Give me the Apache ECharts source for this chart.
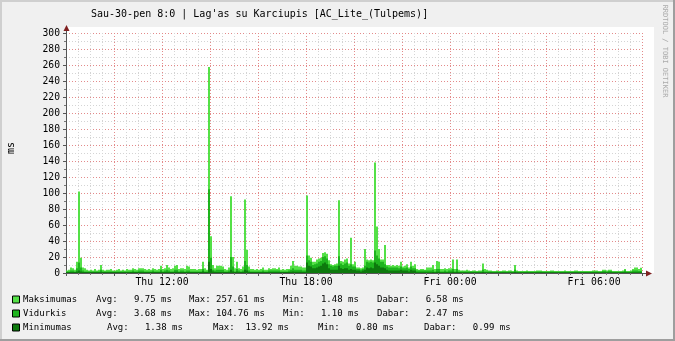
<!DOCTYPE html>
<html><head><meta charset="utf-8">
<script src="https://cdn.jsdelivr.net/npm/echarts@6/dist/echarts.min.js"></script>
<style>html,body{margin:0;padding:0;background:#F0F0F0}#c{width:675px;height:341px}</style>
</head><body><div id="c"></div>
<script>
const titleText = "Sau-30-pen 8:0 | Lag'as su Karciupis [AC_Lite_(Tulpems)]";
const yAxisName = 'ms';
const watermark = 'RRDTOOL / TOBI OETIKER';
const tickMinutes = [240, 600, 960, 1320];
const tickLabels = ['Thu 12:00', 'Thu 18:00', 'Fri 00:00', 'Fri 06:00'];
const seriesNames = ['Maksimumas', 'Vidurkis', 'Minimumas'];
const legendStats = [
  ['Avg:   9.75 ms', 'Max: 257.61 ms', 'Min:   1.48 ms', 'Dabar:   6.58 ms'],
  ['Avg:   3.68 ms', 'Max: 104.76 ms', 'Min:   1.10 ms', 'Dabar:   2.47 ms'],
  ['Avg:   1.38 ms', 'Max:  13.92 ms', 'Min:   0.80 ms', 'Dabar:   0.99 ms']
];
// 5-minute samples, Thu 08:00 .. Fri 08:00 (12 per row = 1 hour)
const maxVals = [
 3,4,7,6,4,14,102,19,7,6,4,3,
 4,3,5,3,4,10,4,3,4,4,5,3,
 3,4,5,3,4,3,5,4,4,6,5,4,
 6,6,6,5,4,5,4,6,5,4,5,9,
 5,6,10,7,5,6,9,10,5,6,6,5,
 9,8,5,5,5,4,5,5,14,6,4,257.61,
 46,10,6,9,9,9,8,5,4,7,96,20,
 6,14,6,5,8,92,29,8,5,5,4,5,
 4,5,7,4,4,6,5,6,6,5,7,4,
 5,4,5,5,9,15,9,9,8,8,7,7,
 97,22,19,14,14,17,18,19,25,26,24,16,
 11,10,11,12,91,15,14,17,18,12,44,11,
 14,7,7,6,7,30,17,16,17,16,138,58,
 30,17,17,35,10,10,9,10,9,10,9,14,
 8,9,11,7,14,9,11,5,4,5,5,4,
 7,7,7,10,5,15,14,5,5,6,5,6,
 6,17,5,17,4,3,3,3,4,3,2.5,3,
 3,2.5,3,3,12,5,4,3,3,2.5,2.5,3,
 2.5,2.5,3,3,2.5,3,3,2.5,10,3,2.5,2.5,
 2.5,2.5,3,2.5,2.5,2.5,2.5,3,3,3,2.5,2.5,
 2.5,2.5,3,3,2.5,2.5,2.5,2.5,2.5,3,2.5,2.5,
 2.5,2.5,3,3,2.5,2.5,2.5,2.5,2.5,2.5,2.5,3,
 3,3,2.5,2.5,4,4,3,4,4,2.5,2.5,2.5,
 2.5,2.5,3,5,2.5,2.5,3,5,7,7,5,6.58
];
const avgVals = [
 2,2,3,3,2,6,13,7,3,2,2,2,
 2,2,2,2,2,4,2,2,2,2,2,2,
 2,2,2,2,2,2,2,2,2,3,2,2,
 3,3,3,2,2,2,2,3,2,2,2,4,
 2,3,4,3,2,2,4,4,2,3,3,2,
 3,3,2,2,2,2,2,2,5,2,2,104.76,
 19,4,3,4,4,4,4,2,2,3,20,8,
 2,5,3,2,3,15,10,3,2,2,2,2,
 2,2,3,2,2,3,3,3,3,3,3,2,
 2,2,2,3,4,6,4,4,4,4,3,3,
 22,16,14,10,11,12,14,15,20,21,18,11,
 9,8,9,9,21,12,10,12,13,9,11,8,
 8,5,5,4,5,9,14,13,14,13,28,22,
 18,14,14,11,8,7,7,7,7,7,6,8,
 6,6,7,5,8,6,6,3,3,3,3,3,
 3,3,3,4,2,5,5,2,2,3,2,3,
 3,5,2,5,2,2,2,2,2,2,1.8,2,
 1.8,1.7,1.8,1.8,4,2,2,1.8,1.8,1.7,1.7,1.8,
 1.7,1.7,1.8,1.8,1.7,1.8,1.8,1.7,4,1.8,1.7,1.7,
 1.7,1.7,1.8,1.7,1.7,1.7,1.7,1.8,1.8,1.8,1.7,1.7,
 1.7,1.7,1.8,1.8,1.7,1.7,1.7,1.7,1.7,1.8,1.7,1.7,
 1.7,1.7,1.8,1.8,1.7,1.7,1.7,1.7,1.7,1.7,1.7,1.8,
 1.8,1.8,1.7,1.7,2.5,2.5,2,2.5,2.5,1.7,1.7,1.7,
 1.7,1.7,2,3,1.7,1.7,2,3,3,3,2.5,2.47
];
const minVals = [
 1.2,1.2,1.2,1.2,1.2,2,3,2,1.2,1.2,1.2,1.2,
 1.2,1.2,1.2,1.2,1.2,1.5,1.2,1.2,1.2,1.2,1.2,1.2,
 1.2,1.2,1.2,1.2,1.2,1.2,1.2,1.2,1.2,1.2,1.2,1.2,
 1.2,1.2,1.2,1.2,1.2,1.2,1.2,1.2,1.2,1.2,1.2,1.5,
 1.2,1.2,1.5,1.2,1.2,1.2,1.5,1.5,1.2,1.2,1.2,1.2,
 1.2,1.2,1.2,1.2,1.2,1.2,1.2,1.2,2,1.2,1.2,13.92,
 5,2,1.2,1.2,1.2,1.2,1.2,1.2,1.2,1.2,4,2,
 1.2,2,1.2,1.2,1.2,4,3,1.2,1.2,1.2,1.2,1.2,
 1.2,1.2,1.2,1.2,1.2,1.2,1.2,1.2,1.2,1.2,1.2,1.2,
 1.2,1.2,1.2,1.2,1.5,2,1.5,1.5,1.5,1.5,1.2,1.2,
 13,9,8,6,6,7,8,9,12,13,11,6,
 4,4,4,4,9,6,5,6,6,4,5,4,
 4,3,3,2,3,4,7,6,7,6,13,11,
 9,7,7,6,4,3,3,3,3,3,3,4,
 3,3,3,2,4,3,3,1,1,1,1,1,
 1,1,1,1.2,1,1.5,1.5,1,1,1,1,1,
 1,1.5,1,1.5,1,1,1,1,1,1,0.9,0.9,
 0.9,0.9,0.9,0.9,1.2,0.9,0.9,0.9,0.9,0.9,0.9,0.9,
 0.9,0.9,0.9,0.9,0.9,0.9,0.9,0.9,1.2,0.9,0.9,0.9,
 0.9,0.9,0.9,0.9,0.9,0.9,0.9,0.9,0.9,0.9,0.9,0.9,
 0.9,0.9,0.9,0.9,0.9,0.9,0.9,0.9,0.9,0.9,0.9,0.9,
 0.9,0.9,0.9,0.9,0.9,0.9,0.9,0.9,0.9,0.9,0.9,0.9,
 0.9,0.9,0.9,0.9,1,1,0.9,1,1,0.9,0.9,0.9,
 0.9,0.9,0.9,1,0.9,0.9,0.9,1,1,1,1,0.99
];

const colors = ['#54E047', '#1EB41E', '#0D790D'];
const mono = 'DejaVu Sans Mono';
const L = { gx: 66, gy: 33, gw: 576, gh: 240 };
const legendRowY = [299.5, 313.5, 327.5];
const legendStatX = [[96, 189, 283, 377], [96, 189, 283, 377], [107, 213, 318, 424]];
const minorGrid = { color: '#D4D4D4', type: [1, 2], width: 1 };
const majorGrid = { color: '#E38A8A', type: [1, 2], width: 1 };

const categories = [];
for (let i = 0; i < maxVals.length; i++) {
  const m = 480 + i * 5, h = Math.floor(m / 60) % 24, mm = m % 60;
  categories.push((m >= 1440 ? 'Fri ' : 'Thu ') + String(h).padStart(2, '0') + ':' + String(mm).padStart(2, '0'));
}

function txt(x, y, text, size, extra) {
  return Object.assign({ type: 'text', x: x, y: y, silent: true,
    style: Object.assign({ text: text, fontFamily: mono, fontSize: size, fill: '#000',
      align: 'left', textAlign: 'left', verticalAlign: 'middle', textVerticalAlign: 'middle' }, (extra && extra.style) || {}) },
    extra ? { rotation: extra.rotation || 0 } : {});
}

const graphics = [
  { type: 'rect', shape: { x: 0, y: 0, width: 675, height: 2 }, style: { fill: '#CFCFCF' }, silent: true },
  { type: 'rect', shape: { x: 0, y: 0, width: 2, height: 341 }, style: { fill: '#CFCFCF' }, silent: true },
  { type: 'rect', shape: { x: 0, y: 339, width: 675, height: 2 }, style: { fill: '#9E9E9E' }, silent: true },
  { type: 'rect', shape: { x: 673, y: 0, width: 2, height: 341 }, style: { fill: '#9E9E9E' }, silent: true },
  { type: 'rect', shape: { x: 67, y: 27, width: 587, height: 6 }, style: { fill: '#FFFFFF' }, silent: true },
  { type: 'rect', shape: { x: 642, y: 27, width: 12, height: 246 }, style: { fill: '#FFFFFF' }, silent: true },
  { type: 'line', shape: { x1: 66.5, y1: 33, x2: 66.5, y2: 29 }, style: { stroke: '#555', lineWidth: 1 }, silent: true },
  { type: 'line', shape: { x1: 642, y1: 273.5, x2: 647, y2: 273.5 }, style: { stroke: '#555', lineWidth: 1 }, silent: true },
  { type: 'polygon', shape: { points: [[63.5, 31], [69.5, 31], [66.5, 25]] }, style: { fill: '#7F1F1F' }, silent: true },
  { type: 'polygon', shape: { points: [[646, 270.5], [646, 276.5], [652, 273.5]] }, style: { fill: '#7F1F1F' }, silent: true },
  txt(91, 14.5, titleText, 10),
  txt(11, 148, yAxisName, 10, { rotation: Math.PI / 2, style: { align: 'center', textAlign: 'center' } }),
  txt(665, 51, watermark, 7, { rotation: -Math.PI / 2, style: { align: 'center', textAlign: 'center', fill: '#AAAAAA' } })
];
seriesNames.forEach(function (n, r) {
  graphics.push({ type: 'rect', shape: { x: 12.5, y: legendRowY[r] - 3.5, width: 7, height: 7 },
    style: { fill: colors[r], stroke: '#000', lineWidth: 1 }, silent: true });
  graphics.push(txt(23, legendRowY[r], n, 9));
  legendStats[r].forEach(function (s, k) { graphics.push(txt(legendStatX[r][k], legendRowY[r], s, 9)); });
});

const chart = echarts.init(document.getElementById('c'), null, { renderer: 'canvas' });
chart.setOption({
  backgroundColor: '#F0F0F0',
  animation: false,
  grid: { left: L.gx, top: L.gy, width: L.gw, height: L.gh, show: true, backgroundColor: '#FFFFFF', borderWidth: 0 },
  xAxis: [
    { type: 'category', data: categories, show: false, boundaryGap: true },
    { type: 'value', min: 0, max: 1440, interval: 120, position: 'bottom',
      axisLine: { show: true, lineStyle: { color: '#555', width: 1 } },
      axisTick: { show: true, length: 3, lineStyle: { color: '#555' } },
      minorTick: { show: true, splitNumber: 4, length: 2, lineStyle: { color: '#777' } },
      splitLine: { show: true, lineStyle: majorGrid },
      minorSplitLine: { show: true, lineStyle: minorGrid },
      axisLabel: { margin: 4, fontFamily: mono, fontSize: 9.8, color: '#000', showMinLabel: true, showMaxLabel: true,
        formatter: function (v) { const k = tickMinutes.indexOf(v); return k >= 0 ? tickLabels[k] : ''; } } }
  ],
  yAxis: { type: 'value', min: 0, max: 300, interval: 20,
    axisLine: { show: true, lineStyle: { color: '#555', width: 1 } },
    axisTick: { show: true, length: 3, lineStyle: { color: '#555' } },
    minorTick: { show: true, splitNumber: 2, length: 2, lineStyle: { color: '#777' } },
    splitLine: { show: true, lineStyle: majorGrid },
    minorSplitLine: { show: true, lineStyle: minorGrid },
    axisLabel: { margin: 6, fontFamily: mono, fontSize: 9.7, color: '#000' } },
  series: [maxVals, avgVals, minVals].map(function (d, k) {
    return { name: seriesNames[k], type: 'bar', xAxisIndex: 0, yAxisIndex: 0, data: d,
      barGap: '-100%', barCategoryGap: '0%', itemStyle: { color: colors[k] }, silent: true };
  }),
  graphic: { elements: graphics }
});
</script></body></html>
